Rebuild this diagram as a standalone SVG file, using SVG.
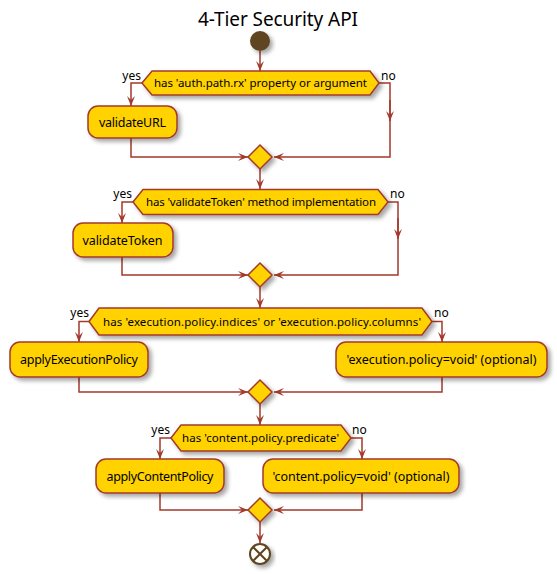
<svg xmlns="http://www.w3.org/2000/svg" width="557" height="574" viewBox="0 0 557 574">
<defs>
<filter id="sh" x="-20%" y="-20%" width="150%" height="160%">
<feDropShadow dx="3" dy="3" stdDeviation="2" flood-color="#000" flood-opacity="0.35"/>
</filter>
<marker id="ar" viewBox="0 0 10 8" refX="10" refY="4" markerWidth="10" markerHeight="8" markerUnits="userSpaceOnUse" orient="auto">
<path d="M0,0 L10,4 L0,8 L4,4 z" fill="#A33A2B"/>
</marker>
</defs>
<style>
.shape{fill:#FFD200;stroke:#A33A2B;stroke-width:1.5;filter:url(#sh)}
.ln{fill:none;stroke:#A33A2B;stroke-width:1.5}
.arr{marker-end:url(#ar)}
.t{font-family:"Noto Sans","DejaVu Sans","Liberation Sans",sans-serif;fill:#000}
.box{font-size:12.5px;text-anchor:middle}
.dec{font-size:11.5px;text-anchor:middle}
.lbl{font-size:12px}
</style>
<rect width="557" height="574" fill="#fff"/>
<text class="t" x="278" y="26" font-size="19" text-anchor="middle" textLength="160">4-Tier Security API</text>

<g id="connectors">
<path class="ln arr" d="M260,51 L260,71"/>
<path class="ln arr" d="M142,83 L131,83 L131,106"/>
<path class="ln arr" d="M379,83 L390,83 L390,157 L274,157"/>
<path class="ln arr" d="M390,100 L390,121"/>
<path class="ln arr" d="M131,138 L131,157 L248,157"/>
<path class="ln arr" d="M260,169 L260,189"/>

<path class="ln arr" d="M133,202 L122,202 L122,223"/>
<path class="ln arr" d="M388,202 L398,202 L398,275 L274,275"/>
<path class="ln arr" d="M398,218 L398,239"/>
<path class="ln arr" d="M122,257 L122,275 L248,275"/>
<path class="ln arr" d="M260,287 L260,308"/>

<path class="ln arr" d="M89,321.5 L79,321.5 L79,342"/>
<path class="ln arr" d="M432,321.5 L442,321.5 L442,342"/>
<path class="ln arr" d="M79,377 L79,392 L248,392"/>
<path class="ln arr" d="M442,377 L442,392 L274,392"/>
<path class="ln arr" d="M260,404 L260,425"/>

<path class="ln arr" d="M171,438 L160,438 L160,459"/>
<path class="ln arr" d="M351,438 L362,438 L362,459"/>
<path class="ln arr" d="M160,493 L160,510 L248,510"/>
<path class="ln arr" d="M362,493 L362,510 L274,510"/>
<path class="ln arr" d="M260,522 L260,543"/>
</g>

<g id="start">
<circle cx="260" cy="41" r="10" fill="#5E4424" filter="url(#sh)"/>
</g>

<g id="d1">
<polygon class="shape" points="142,83 152,71 370,71 379,83 370,95 152,95"/>
<text class="t dec" x="260.5" y="87" textLength="213">has 'auth.path.rx' property or argument</text>
<text class="t lbl" x="141" y="80" text-anchor="end">yes</text>
<text class="t lbl" x="381" y="80">no</text>
</g>
<g id="validateURL">
<rect class="shape" x="88" y="106" width="89" height="32" rx="10"/>
<text class="t box" x="132.5" y="126.5" textLength="67">validateURL</text>
</g>
<g id="m1"><polygon class="shape" points="260,145 272,157 260,169 248,157"/></g>

<g id="d2">
<polygon class="shape" points="133,202 143,189.5 378,189.5 388,202 378,214.5 143,214.5"/>
<text class="t dec" x="261" y="206" textLength="230">has 'validateToken' method implementation</text>
<text class="t lbl" x="132" y="198" text-anchor="end">yes</text>
<text class="t lbl" x="390" y="198">no</text>
</g>
<g id="validateToken">
<rect class="shape" x="73" y="223" width="100" height="34" rx="10"/>
<text class="t box" x="122.5" y="244.5" textLength="80">validateToken</text>
</g>
<g id="m2"><polygon class="shape" points="260,263 272,275 260,287 248,275"/></g>

<g id="d3">
<polygon class="shape" points="89,321.5 99,308 422,308 432,321.5 422,335 99,335"/>
<text class="t dec" x="262" y="325.5" textLength="318">has 'execution.policy.indices' or 'execution.policy.columns'</text>
<text class="t lbl" x="89" y="317" text-anchor="end">yes</text>
<text class="t lbl" x="434" y="317">no</text>
</g>
<g id="applyExecutionPolicy">
<rect class="shape" x="10" y="342" width="138" height="35" rx="10"/>
<text class="t box" x="79" y="364" textLength="118">applyExecutionPolicy</text>
</g>
<g id="execVoid">
<rect class="shape" x="336" y="342" width="211" height="35" rx="10"/>
<text class="t box" x="441.5" y="364" textLength="190">'execution.policy=void' (optional)</text>
</g>
<g id="m3"><polygon class="shape" points="260,380 272,392 260,404 248,392"/></g>

<g id="d4">
<polygon class="shape" points="171,438 181,425 341,425 351,438 341,451 181,451"/>
<text class="t dec" x="260.5" y="442" textLength="157">has 'content.policy.predicate'</text>
<text class="t lbl" x="170" y="434" text-anchor="end">yes</text>
<text class="t lbl" x="352" y="434">no</text>
</g>
<g id="applyContentPolicy">
<rect class="shape" x="96" y="459" width="128" height="34" rx="10"/>
<text class="t box" x="160" y="481" textLength="107">applyContentPolicy</text>
</g>
<g id="contentVoid">
<rect class="shape" x="263" y="459" width="196" height="34" rx="10"/>
<text class="t box" x="361" y="481" textLength="177">'content.policy=void' (optional)</text>
</g>
<g id="m4"><polygon class="shape" points="260,498 272,510 260,522 248,510"/></g>

<g id="end">
<circle cx="260" cy="554" r="10" fill="#FFFFF8" stroke="#5E4424" stroke-width="2" filter="url(#sh)"/>
<path d="M253,547 L267,561 M267,547 L253,561" stroke="#5E4424" stroke-width="2"/>
</g>
</svg>
